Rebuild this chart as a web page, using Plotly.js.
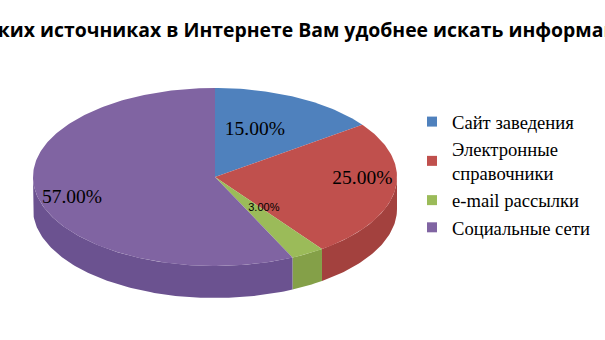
<!DOCTYPE html>
<html><head><meta charset="utf-8">
<script src="https://cdn.plot.ly/plotly-3.0.1.min.js"></script>
<style>html,body{margin:0;padding:0;background:#fff}#chart{width:605px;height:340px}</style>
</head><body><div id="chart"></div>
<script>
const titleText = 'В каких источниках в Интернете Вам удобнее искать информацию?';
const categories = ['Сайт заведения', 'Электронные справочники', 'e-mail рассылки', 'Социальные сети'];
const legendNames = ['Сайт заведения', 'Электронные<br>справочники', 'e-mail рассылки', 'Социальные сети'];
const values = [15, 25, 3, 57];
const valueLabels = ['15.00%', '25.00%', '3.00%', '57.00%'];

// style / geometry
const topColors = ['#4F81BD', '#C0504D', '#9BBB59', '#8064A2'];
const sideColors = ['#3f6897', '#a3413e', '#84a048', '#6b5290'];
const labelRadius = [0.57, 0.81, 0.44, 0.82];
const labelAngleShift = [-4.4, -7.6, -7, -4];
const geo = {cx: 215, cy: 177, a: 182, b: 89, depth: 32};

function pt(thDeg, dy) {
  const t = thDeg * Math.PI / 180;
  return [geo.cx + geo.a * Math.sin(t), geo.cy - geo.b * Math.cos(t) + (dy || 0)];
}
function arc(s, e, dy) {
  const pts = [];
  const n = Math.max(2, Math.ceil(Math.abs(e - s)));
  for (let i = 0; i <= n; i++) pts.push(pt(s + (e - s) * i / n, dy));
  return pts;
}

const total = values.reduce((p, c) => p + c, 0);
const sideTraces = [];
const topTraces = [];
let acc = 0;
const labelPts = [];
values.forEach((v, i) => {
  const s = acc / total * 360;
  const e = (acc + v) / total * 360;
  acc += v;
  const fs = Math.max(s, 90), fe = Math.min(e, 270);
  if (fe > fs) {
    const upper = arc(fs, fe, 0);
    const lower = arc(fe, fs, geo.depth);
    const all = upper.concat(lower);
    all.push(upper[0]);
    sideTraces.push({
      type: 'scatter', mode: 'lines', fill: 'toself',
      x: all.map(p => p[0]), y: all.map(p => p[1]),
      fillcolor: sideColors[i], line: {width: 0, color: sideColors[i]},
      showlegend: false, hoverinfo: 'skip'
    });
  }
  const a = arc(s, e, 0);
  const poly = [[geo.cx, geo.cy]].concat(a).concat([[geo.cx, geo.cy]]);
  topTraces.push({
    type: 'scatter', mode: 'lines', fill: 'toself',
    x: poly.map(p => p[0]), y: poly.map(p => p[1]),
    fillcolor: topColors[i], line: {width: 0, color: topColors[i]},
    showlegend: false, name: categories[i], hoverinfo: 'name'
  });
  const m = ((s + e) / 2 + labelAngleShift[i]) * Math.PI / 180;
  labelPts.push([geo.cx + geo.a * labelRadius[i] * Math.sin(m), geo.cy - geo.b * labelRadius[i] * Math.cos(m)]);
});

const bigIdx = [0, 1, 3], smallIdx = [2];
const labelTraceBig = {
  type: 'scatter', mode: 'text', showlegend: false, hoverinfo: 'skip',
  x: bigIdx.map(i => labelPts[i][0]), y: bigIdx.map(i => labelPts[i][1]),
  text: bigIdx.map(i => valueLabels[i]), textposition: 'middle center',
  textfont: {family: 'Liberation Serif, serif', size: 19.5, color: '#000'}
};
const labelTraceSmall = {
  type: 'scatter', mode: 'text', showlegend: false, hoverinfo: 'skip',
  x: smallIdx.map(i => labelPts[i][0]), y: smallIdx.map(i => labelPts[i][1]),
  text: smallIdx.map(i => valueLabels[i]), textposition: 'middle center',
  textfont: {family: 'Liberation Sans, Arial, sans-serif', size: 11, color: '#000'}
};
const legendTraces = categories.map((c, i) => ({
  type: 'scatter', mode: 'markers', x: [null], y: [null],
  name: legendNames[i], marker: {symbol: 'square', size: 10, color: topColors[i]},
  showlegend: true, hoverinfo: 'skip'
}));

const data = sideTraces.concat(topTraces, [labelTraceBig, labelTraceSmall], legendTraces);

const layout = {
  width: 605, height: 340,
  margin: {l: 0, r: 0, t: 0, b: 0},
  paper_bgcolor: '#fff', plot_bgcolor: '#fff',
  xaxis: {range: [0, 605], visible: false, fixedrange: true},
  yaxis: {range: [340, 0], visible: false, fixedrange: true},
  title: {
    text: '<b>' + titleText + '</b>',
    font: {family: 'Open Sans, sans-serif', size: 19.4, color: '#000'},
    x: 0.5 + 4 / 605, xanchor: 'center', xref: 'container',
    y: 1 - 30 / 340, yanchor: 'middle', yref: 'container'
  },
  legend: {
    x: 412 / 605, xanchor: 'left', y: 1 - 103 / 340, yanchor: 'top',
    font: {family: 'Liberation Serif, serif', size: 18.6, color: '#000'},
    bgcolor: 'rgba(0,0,0,0)', traceorder: 'normal'
  },
  showlegend: true
};
Plotly.newPlot('chart', data, layout, {staticPlot: true, displayModeBar: false});
</script></body></html>
